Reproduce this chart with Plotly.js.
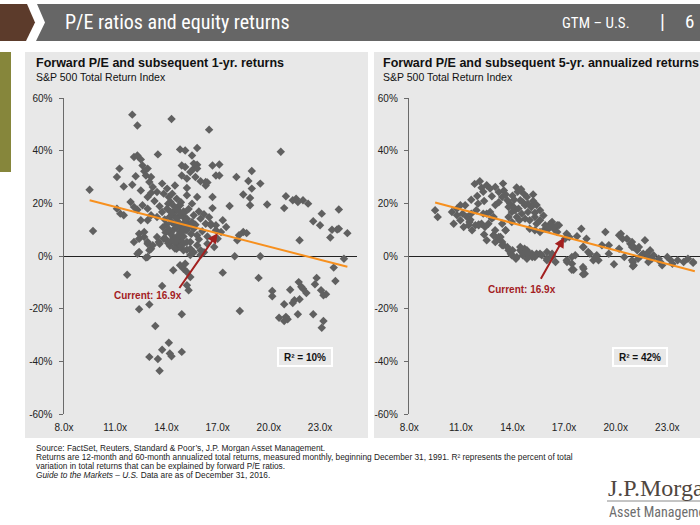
<!DOCTYPE html>
<html>
<head>
<meta charset="utf-8">
<script src="https://cdn.plot.ly/plotly-3.0.1.min.js"></script>
<style>html,body{margin:0;padding:0;background:#fff;}#chart{width:700px;height:525px;}</style>
</head>
<body>
<div id="chart"></div>
<script>
// ---------- DATA ----------
// Left panel: forward P/E vs subsequent 1-yr return (%)
const oneYrPE = [
9.5,9.7,12.0,12.3,14.3,16.5,20.7,13.5,12.1,12.3,12.5,14.8,15.1,15.8,14.9,15.5,
16.7,17.1,17.1,15.8,15.6,15.2,16.0,16.3,18.1,18.8,19.0,19.5,19.0,18.5,18.9,18.9,
19.9,17.7,16.7,21.0,20.9,21.4,21.6,21.7,22.0,22.3,23.1,22.6,23.0,24.1,23.7,24.0,24.1,24.6,23.6,21.8,
11.1,11.25,11.5,12.0,11.1,11.3,11.5,11.9,12.1,12.3,12.6,12.7,12.8,12.9,13.1,12.2,
12.5,13.0,13.2,13.45,13.75,14.04,14.34,15.1,14.9,15.4,15.6,15.8,15.7,16.3,16.4,15.2,14.5,
13.84,14.14,14.24,14.6,14.8,15.2,15.5,15.8,16.9,16.7,
12.6,12.9,12.5,12.9,13.1,13.45,13.75,14.04,14.4,14.8,15.2,15.6,16.0,16.3,16.6,16.9,
12.4,12.7,12.1,12.9,13.45,13.84,14.24,14.6,14.8,15.2,15.6,15.8,14.8,15.4,
17.3,17.5,17.2,16.9,16.6,18.5,18.25,18.15,18.7,
12.4,12.7,12.9,13.1,12.4,12.9,13.55,13.94,14.4,14.8,15.2,14.6,15.0,15.4,15.8,16.0,16.4,16.8,17.0,
13.2,13.6,13.0,12.3,12.8,
11.7,13.75,14.4,14.8,15.0,15.2,15.4,15.2,15.3,15.1,
12.4,13.0,13.35,14.9,14.14,13.75,14.2,14.3,13.0,13.5,14.9,13.6,
17.3,18.0,19.5,18.3,19.4,
20.2,20.2,20.6,20.9,21.0,21.1,20.9,21.25,21.4,21.5,21.75,21.8,21.9,22.0,22.2,21.7,22.6,22.7,22.8,23.06,23.2,23.35,23.2,23.1,23.8,23.9,24.4,
14.5,14.7,14.9,15.0,15.1,14.6,14.3,14.0,13.8,15.3,15.5,14.4,14.7,15.0,14.2,14.5,14.7,14.9,14.6,14.8,15.0,14.5,14.3,14.1,15.2,15.6,16.0,16.2,15.4,
14.2,13.9,14.6,15.0,15.3,14.1,13.6,13.3,12.9,13.1,15.9,16.2,16.5,15.7,16.1,16.4,15.9,
14.35,14.55,14.75,14.95,15.15,14.45,14.65,14.85,15.05,14.25,14.6,14.9,15.25,15.45,13.95,14.15
];
const oneYrRet = [
25.3,9.6,53.8,49.7,52.1,48.1,39.7,38.7,37.7,38.3,36.8,40.6,40.2,41.1,34.5,38.3,
34.5,34.9,30.7,34.8,33.3,29.5,28.5,28.2,30.1,28.6,32.4,27.6,25.7,23.5,22.1,19.4,
19.7,19.1,18.3,22.8,18.3,21.3,21.9,20.6,21.3,20.0,16.2,13.3,11.8,17.8,10.1,10.2,10.5,8.8,7.1,6.1,
30.1,33.3,26.5,27.2,18.1,16.2,15.6,20.6,18.7,17.7,34.5,32.3,30.7,33.3,30.1,30.4,
25.0,28.2,26.3,24.4,27.6,25.7,23.8,33.9,30.7,32.0,35.2,33.3,30.1,26.9,28.0,25.9,26.9,
23.8,22.5,20.6,21.9,19.4,23.2,20.0,22.5,30.7,22.5,
19.4,18.1,13.7,13.7,15.6,14.9,16.8,18.1,16.8,15.6,14.3,15.6,14.3,12.4,11.8,9.9,
8.6,9.2,5.4,5.4,7.3,6.7,8.6,11.8,9.2,9.9,10.5,8.0,6.7,5.4,
13.7,11.1,9.2,11.8,12.4,9.2,8.0,6.1,8.8,
6.7,7.3,4.8,2.9,1.6,-0.3,5.4,6.7,7.3,6.1,5.4,2.9,2.3,2.9,4.2,2.3,4.8,3.5,6.7,
4.2,4.8,2.3,1.0,-0.5,
-7.0,-11.3,-5.3,-3.4,-4.7,-6.0,-7.9,-11.0,-12.9,-2.8,
-20.1,-18.3,-26.5,-22.0,-32.8,-35.5,-36.9,-38.0,-38.2,-39.0,-36.3,-43.5,
-6.2,0.0,0.0,-20.8,-8.2,
-13.2,-15.2,-23.3,-24.6,-23.0,-23.9,-18.2,-12.7,-17.7,-16.7,-9.8,-16.3,-11.6,-12.3,-13.9,-22.0,-22.0,-10.6,-8.2,-12.9,-14.8,-14.4,-24.6,-27.1,-4.3,-9.4,-0.9,
12,13,11,12.5,10,14.5,13,12,11,12,13,10,8,7.5,4,5,4.5,5.5,6,3.5,4.8,3,6,5,2.5,1.5,0.5,1.5,0.5,
15,14,17.5,17,18,20,19,21,22.5,24,17,16,14.8,12,9.5,7.5,6.5,
16,14.5,17,15.2,13.8,19,18.6,20.5,16.5,16.8,10.8,9.2,11,8.5,9,10.2
];
// Right panel: forward P/E vs subsequent 5-yr annualized return (%)
const fiveYrPE = [
9.5,9.65,12.1,11.95,12.35,11.25,11.1,11.35,11.55,11.65,12.03,12.2,12.35,12.5,12.7,12.9,
12.5,12.7,13.0,13.2,13.45,13.4,13.5,14.24,13.7,13.86,14.06,14.45,14.65,14.84,
12.9,13.1,13.3,13.6,
13.4,13.7,14.0,14.2,14.45,14.7,15.0,15.3,15.6,16.0,16.3,
13.0,13.4,13.9,14.6,14.85,15.15,15.4,15.7,16.0,16.3,16.5,
17.17,17.46,17.55,17.65,18.13,18.2,18.13,18.4,18.7,18.9,19.2,19.6,19.9,20.2,20.5,21.0,21.0,21.3,21.6,21.9,22.2,22.5,22.7,23.0,23.3,23.6,23.95,24.2,24.5,
16.3,16.7,16.4,17.15,17.05,17.75,18.0,18.3,18.1,18.5,
18.8,19.0,17.15,17.45,17.45,18.1,18.1,19.4,19.6,20.2,20.3,20.65,20.85,20.95,21.25,21.7,21.5,21.8,22.0,21.9,22.1,20.95,21.05,22.6,23.2,24.5,
20.4,20.95,21.05,21.35,16.6,16.2,15.9,17.3,
13.77,13.96,14.15,14.35,14.54,14.73,14.9,15.1,14.25,14.4,14.73,15.0,15.3,15.4,15.6,15.9,16.1,16.4,16.6,15.0,15.3,15.6,
13.48,13.77,13.96,14.25,14.54,14.84,15.13,16.0,16.3,14.45,14.84,
10.48,10.77,10.97,10.58,11.16,11.45,11.84,10.77,10.97,
11.6,11.9,12.3,11.5,12.03,12.4,12.6,12.8,12.99,13.6,13.2,12.5,12.9,13.4,13.77,13.96,
14.0,14.3,14.6,14.9,15.2,15.4,15.6,15.3,15.8,14.1,13.6,13.2,12.8,12.2,11.8,12.3,13.0,12.0,11.6,15.2,14.5
];
const fiveYrRet = [
17.5,14.9,28.5,22.9,21.0,19.4,16.2,14.9,13.9,9.9,12.1,12.4,8.3,16.2,16.8,14.9,
27.0,25.7,26.3,24.4,27.6,22.5,25.0,26.1,21.3,20.0,18.7,21.3,23.8,22.5,
8.0,6.1,7.3,9.9,
5.4,3.5,2.3,-0.9,2.3,2.9,0.4,-0.3,1.0,1.6,-0.3,
5.4,4.2,1.0,0.4,1.6,-0.3,1.0,0.4,-0.9,1.0,-2.2,
-2.2,-2.8,-5.1,0.4,-4.7,-6.6,3.5,1.6,-1.5,0.4,4.2,1.0,-3.0,2.9,-0.3,-2.2,-3.8,-0.9,1.0,-2.2,0.4,-0.9,-3.4,-0.3,-2.8,-1.5,-2.2,-0.9,-2.5,
13.0,11.8,10.5,8.6,6.7,7.6,10.5,6.7,3.5,1.0,
-0.3,-1.5,-1.5,-0.3,-5.1,-4.1,-6.8,9.2,4.2,8.0,8.6,6.7,4.8,3.5,2.3,6.1,0.4,1.0,2.3,-0.3,-0.9,-1.5,-3.4,-2.2,-1.5,-2.2,
6.7,5.4,3.5,3.5,11.8,12.4,10.5,7.3,
18.7,16.8,17.5,18.1,16.2,19.4,16.8,18.7,14.9,13.7,14.3,13.7,14.9,12.4,13.7,11.8,10.5,11.1,9.2,10.5,9.9,9.2,
4.2,2.3,0.4,-0.3,1.6,-0.9,1.0,-1.5,0.4,3.5,2.3,
16.8,15.6,13.7,12.4,11.1,11.8,11.8,18.1,19.4,
16.2,17.5,16.2,13.0,11.8,11.1,12.4,14.3,9.9,9.9,7.3,6.1,8.0,12.4,14.9,13.0,
23,24.5,20.5,20,21,19.5,17.5,16.5,15.5,21.5,23.5,20.5,22.8,26,27.5,24.5,19.5,20,21.5,23.5,25.5
];
// Trend lines (endpoints)
const trend1PE = [9.5, 24.6];
const trend1Ret = [21.3, -4.0];
const trend5PE = [9.5, 24.6];
const trend5Ret = [20.4, -5.7];
// Current valuation arrows
const currentLabel = "Current: 16.9x";
const arrow1 = {head:[17.0, 8.8], tail:[14.7, -12.6]};
const arrow5 = {head:[17.0, 7.1], tail:[15.6, -9.1]};
const r2Labels = ["R² = 10%", "R² = 42%"];
const xTickVals = [8, 11, 14, 17, 20, 23];
const xTickText = ["8.0x", "11.0x", "14.0x", "17.0x", "20.0x", "23.0x"];
const yTickVals = [-60, -40, -20, 0, 20, 40, 60];
const yTickText = ["-60%", "-40%", "-20%", "0%", "20%", "40%", "60%"];

// ---------- LAYOUT HELPERS ----------
const W = 700, H = 525;
const fx = v => v / W;
const fy = v => 1 - v / H;
const pathOf = pts => pts.map((p, i) => (i ? 'L' : 'M') + fx(p[0]).toFixed(5) + ',' + fy(p[1]).toFixed(5)).join(' ') + ' Z';

const SANS = 'Liberation Sans, Arial, sans-serif';
const NARROW = 'Liberation Sans Narrow, Arial Narrow, Roboto Condensed, sans-serif';
const markerStyle = {symbol: 'diamond', size: 6.5, color: '#606060', line: {width: 0}};
const trendStyle = {color: '#f7901e', width: 2};

const traces = [
  {x: oneYrPE, y: oneYrRet, xaxis: 'x', yaxis: 'y', mode: 'markers', type: 'scatter', marker: markerStyle, hoverinfo: 'skip'},
  {x: trend1PE, y: trend1Ret, xaxis: 'x', yaxis: 'y', mode: 'lines', type: 'scatter', line: trendStyle, hoverinfo: 'skip'},
  {x: fiveYrPE, y: fiveYrRet, xaxis: 'x2', yaxis: 'y2', mode: 'markers', type: 'scatter', marker: markerStyle, hoverinfo: 'skip'},
  {x: trend5PE, y: trend5Ret, xaxis: 'x2', yaxis: 'y2', mode: 'lines', type: 'scatter', line: trendStyle, hoverinfo: 'skip'}
];

const yDomain = [fy(414.3), fy(98.3)];
const x1L = 64, x1R = 357, x1Per = 17.07;
const x2L = 409.3, x2R = 700, x2Per = 17.2;

function xAxisDef(domain, range) {
  return {domain, range, tickmode: 'array', tickvals: xTickVals, ticktext: xTickText, showline: false, showgrid: false,
    zeroline: false, ticks: '', ticklabelstandoff: 6, tickfont: {family: SANS, size: 10, color: '#222'}, fixedrange: true};
}
function yAxisDef(anchor) {
  return {domain: yDomain, range: [-60, 60], anchor, tickmode: 'array', tickvals: yTickVals, ticktext: yTickText,
    showline: true, linecolor: '#6a6a6a', linewidth: 1.5, ticks: 'outside', ticklen: 4, tickcolor: '#6a6a6a',
    ticklabelstandoff: 4,
    showgrid: false, zeroline: true, zerolinecolor: '#222', zerolinewidth: 1,
    tickfont: {family: SANS, size: 10, color: '#222'}, fixedrange: true};
}

const shapes = [
  // header
  {type: 'path', xref: 'paper', yref: 'paper', layer: 'below', fillcolor: '#5c3b2b', line: {width: 0},
   path: pathOf([[0,4],[27,4],[35,22.5],[26,41],[0,41]])},
  {type: 'path', xref: 'paper', yref: 'paper', layer: 'below', fillcolor: '#666666', line: {width: 0},
   path: pathOf([[37,4],[700,4],[700,41],[36,41],[45,22.5]])},
  // olive side tab
  {type: 'rect', xref: 'paper', yref: 'paper', layer: 'below', fillcolor: '#86863b', line: {width: 0},
   x0: fx(0), x1: fx(11), y0: fy(172), y1: fy(52)},
  // panels
  {type: 'rect', xref: 'paper', yref: 'paper', layer: 'below', fillcolor: '#e8e8e8', line: {width: 0},
   x0: fx(25), x1: fx(368), y0: fy(438), y1: fy(52)},
  {type: 'rect', xref: 'paper', yref: 'paper', layer: 'below', fillcolor: '#e8e8e8', line: {width: 0},
   x0: fx(374), x1: fx(700), y0: fy(438), y1: fy(52)},
  // logo rule
  {type: 'line', xref: 'paper', yref: 'paper', x0: fx(607), x1: fx(700), y0: fy(501), y1: fy(501),
   line: {color: '#8a8a8a', width: 1}}
];

const ann = [];
const addText = (x, y, text, font, xanchor = 'left', extra = {}) =>
  ann.push(Object.assign({xref: 'paper', yref: 'paper', x: fx(x), y: fy(y), text, font, xanchor, yanchor: 'middle', showarrow: false}, extra));

addText(63, 22.5, 'P/E ratios and equity returns', {family: NARROW, size: 20, color: '#ffffff'});
addText(632, 23, 'GTM – U.S.', {family: NARROW, size: 15, color: '#ffffff'}, 'right');
addText(662, 22, '|', {family: NARROW, size: 20, color: '#ffffff'}, 'center');
addText(689, 22, '6', {family: NARROW, size: 19, color: '#ffffff'}, 'center');

addText(34, 63, '<b>Forward P/E and subsequent 1-yr. returns</b>', {family: SANS, size: 12.5, color: '#111'});
addText(34, 77, 'S&amp;P 500 Total Return Index', {family: SANS, size: 10.5, color: '#111'});
addText(381, 63, '<b>Forward P/E and subsequent 5-yr. annualized returns</b>', {family: SANS, size: 12.5, color: '#111'});
addText(381, 77, 'S&amp;P 500 Total Return Index', {family: SANS, size: 10.5, color: '#111'});

const foot = {family: SANS, size: 8.3, color: '#222'};
addText(34, 448, 'Source: FactSet, Reuters, Standard &amp; Poor’s, J.P. Morgan Asset Management.', foot);
addText(34, 457, 'Returns are 12-month and 60-month annualized total returns, measured monthly, beginning December 31, 1991. R² represents the percent of total', foot);
addText(34, 466, 'variation in total returns that can be explained by forward P/E ratios.', foot);
addText(34, 475, '<i>Guide to the Markets – U.S.</i> Data are as of December 31, 2016.', foot);

// Logo (cut at the right edge, as in the reference)
addText(606, 488, 'J.P.Morgan', {family: 'Liberation Serif, DejaVu Serif, serif', size: 24, color: '#4f463e'});
addText(607, 512, 'Asset Management', {family: NARROW, size: 14, color: '#6e6e6e'});

// Data-referenced annotations (arrows, labels, R² boxes)
const red = '#a3201f';
[[arrow1, 'x', 'y', [12.9, -14.8], [22.1, -38.4], r2Labels[0]],
 [arrow5, 'x2', 'y2', [14.55, -12.6], [21.4, -38.4], r2Labels[1]]].forEach(([a, xr, yr, lab, r2, r2t]) => {
  ann.push({xref: xr, yref: yr, x: a.head[0], y: a.head[1], axref: xr, ayref: yr, ax: a.tail[0], ay: a.tail[1],
    text: '', showarrow: true, arrowhead: 2, arrowsize: 1, arrowwidth: 2, arrowcolor: red});
  ann.push({xref: xr, yref: yr, x: lab[0], y: lab[1], text: '<b>' + currentLabel + '</b>', showarrow: false,
    font: {family: SANS, size: 10, color: red}, xanchor: 'center', yanchor: 'middle'});
  ann.push({xref: xr, yref: yr, x: r2[0], y: r2[1], text: '<b>' + r2t + '</b>', showarrow: false,
    font: {family: SANS, size: 10, color: '#111'}, xanchor: 'center', yanchor: 'middle',
    bgcolor: '#e8e8e8', bordercolor: '#ffffff', borderwidth: 2, borderpad: 0, width: 52, height: 16});
});

const layout = {
  width: W, height: H, margin: {l: 0, r: 0, t: 0, b: 0, pad: 0},
  paper_bgcolor: '#ffffff', plot_bgcolor: 'rgba(0,0,0,0)', showlegend: false,
  xaxis: Object.assign(xAxisDef([fx(x1L), fx(x1R)], [8, 8 + (x1R - x1L) / x1Per]), {anchor: 'y'}),
  yaxis: yAxisDef('x'),
  xaxis2: Object.assign(xAxisDef([fx(x2L), fx(x2R)], [8, 8 + (x2R - x2L) / x2Per]), {anchor: 'y2'}),
  yaxis2: yAxisDef('x2'),
  shapes, annotations: ann
};

Plotly.newPlot('chart', traces, layout, {staticPlot: true, displayModeBar: false});
</script>
</body>
</html>
